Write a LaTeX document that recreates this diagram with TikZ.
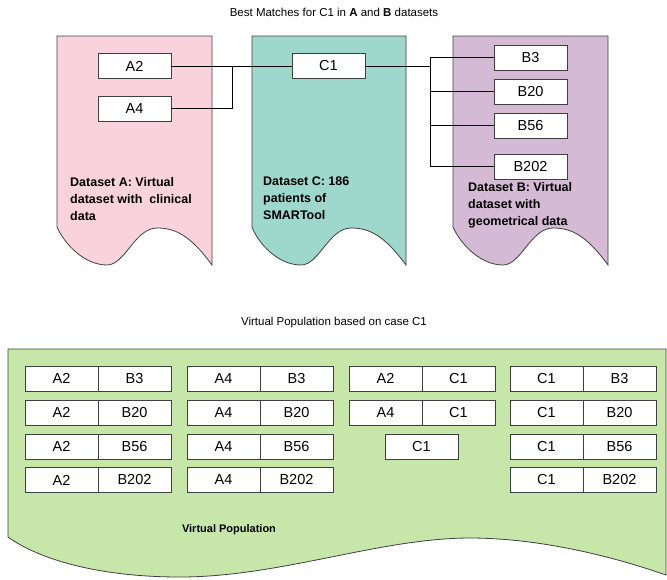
\documentclass[tikz,border=0pt]{standalone}
\usepackage{fontspec}
\setmainfont{Liberation Sans}
\definecolor{pinkA}{HTML}{F9D2DD}
\definecolor{tealC}{HTML}{9ED8CC}
\definecolor{purpB}{HTML}{D4BAD4}
\definecolor{greenV}{HTML}{C7E7AA}
\definecolor{edge}{HTML}{404040}
\begin{document}
\begin{tikzpicture}[x=1pt,y=-1pt,
  doc/.style={draw=edge,line width=0.8pt},
  box/.style={draw=edge,fill=white,line width=0.8pt,minimum width=73pt,minimum height=25pt,inner sep=0pt,font=\fontsize{14.5}{16}\selectfont},
  lbl/.style={anchor=north west,align=left,inner sep=0pt,font=\bfseries\fontsize{12.5}{17}\selectfont},
  ttl/.style={inner sep=0pt,font=\fontsize{11.5}{13}\selectfont},
  conn/.style={draw=black,line width=0.7pt}]
\useasboundingbox (0,0) rectangle (667,579);
% titles
\node[ttl] (t1) at (334,12) {Best Matches for C1 in \textbf{A} and \textbf{B} datasets};
\node[ttl] (t2) at (334,323) {Virtual Population based on case C1};
% document shapes
\path[doc,fill=pinkA] (57,36) -- (212,36) -- (212,265) .. controls (190,235) and (175,228) .. (157,228) .. controls (135,228) and (125,265) .. (107,265) .. controls (85,265) and (65,245) .. (57,227) -- cycle;
\path[doc,fill=tealC] (252,36) -- (406,36) -- (406,265) .. controls (384,235) and (369,228) .. (351,228) .. controls (329,228) and (319,265) .. (301,265) .. controls (279,265) and (259,245) .. (252,227) -- cycle;
\path[doc,fill=purpB] (453,36) -- (608,36) -- (608,265) .. controls (586,235) and (571,228) .. (553,228) .. controls (531,228) and (521,265) .. (503,265) .. controls (481,265) and (461,245) .. (453,227) -- cycle;
% labels
\node[lbl] (la) at (70,177) {Dataset A: Virtual\\dataset with\ \ clinical\\data};
\node[lbl] (lc) at (263,177) {Dataset C: 186\\patients of\\SMARTool};
\node[lbl] (lb) at (468,182) {Dataset B: Virtual\\dataset with\\geometrical data};
% boxes
\node[box] (A2) at (134.5,66) {A2};
\node[box] (A4) at (134.5,108.5) {A4};
\node[box] (C1) at (328.5,66) {C1};
\node[box] (B3) at (530.5,57.5) {B3};
\node[box] (B20) at (530.5,91.5) {B20};
\node[box] (B56) at (530.5,125.5) {B56};
\node[box] (B202) at (530.5,166.5) {B202};
% connectors
\coordinate (jA) at (232,66);
\coordinate (jB) at (430,66);
\coordinate (bT) at (430,57.5);
\coordinate (bB) at (430,166.5);
\draw[conn] (A2) -- (C1);
\draw[conn] (A4.east) -| (jA);
\draw[conn] (C1.east) -- (jB);
\draw[conn] (B3.west) -- (bT) -- (bB) -- (B202.west);
\draw[conn] (B20.west) -- (B20.west -| bT);
\draw[conn] (B56.west) -- (B56.west -| bT);
% virtual population
\path[doc,fill=greenV] (8,349) -- (666,349) -- (666,575) .. controls (600,552) and (530,538) .. (470,538) .. controls (380,538) and (280,577) .. (180,577) .. controls (100,577) and (40,560) .. (8,537) -- cycle;
\node[font=\bfseries\fontsize{11}{13}\selectfont] (vp) at (229,530) {Virtual Population};
% column 1
\node[box] (p11a) at (61.5,378.5) {A2}; \node[box] (p11b) at (134.5,378.5) {B3};
\node[box] (p12a) at (61.5,412.5) {A2}; \node[box] (p12b) at (134.5,412.5) {B20};
\node[box] (p13a) at (61.5,446.5) {A2}; \node[box] (p13b) at (134.5,446.5) {B56};
\node[box] (p14a) at (61.5,480) {A2}; \node[box] (p14b) at (134.5,480) {B202};
% column 2
\node[box] (p21a) at (223.5,378.5) {A4}; \node[box] (p21b) at (296.5,378.5) {B3};
\node[box] (p22a) at (223.5,412.5) {A4}; \node[box] (p22b) at (296.5,412.5) {B20};
\node[box] (p23a) at (223.5,446.5) {A4}; \node[box] (p23b) at (296.5,446.5) {B56};
\node[box] (p24a) at (223.5,480) {A4}; \node[box] (p24b) at (296.5,480) {B202};
% column 3
\node[box] (p31a) at (385.5,378.5) {A2}; \node[box] (p31b) at (458.5,378.5) {C1};
\node[box] (p32a) at (385.5,412.5) {A4}; \node[box] (p32b) at (458.5,412.5) {C1};
\node[box] (p33) at (421.5,446.5) {C1};
% column 4
\node[box] (p41a) at (546.5,378.5) {C1}; \node[box] (p41b) at (619.5,378.5) {B3};
\node[box] (p42a) at (546.5,412.5) {C1}; \node[box] (p42b) at (619.5,412.5) {B20};
\node[box] (p43a) at (546.5,446.5) {C1}; \node[box] (p43b) at (619.5,446.5) {B56};
\node[box] (p44a) at (546.5,480) {C1}; \node[box] (p44b) at (619.5,480) {B202};
\end{tikzpicture}
\end{document}
